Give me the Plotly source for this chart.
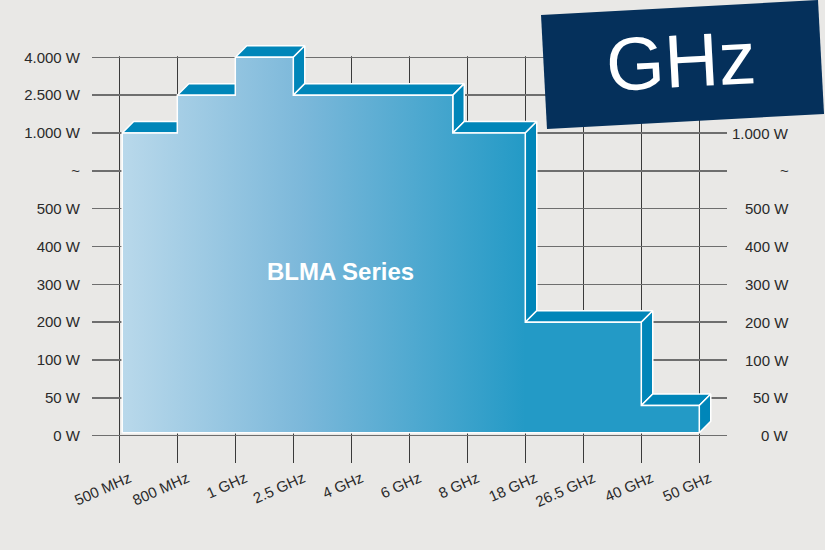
import numpy as np
import plotly.graph_objects as go

# ---------------- data ----------------
freq_labels = ["500 MHz", "800 MHz", "1 GHz", "2.5 GHz", "4 GHz", "6 GHz",
               "8 GHz", "18 GHz", "26.5 GHz", "40 GHz", "50 GHz"]
freq_ghz = [0.5, 0.8, 1, 2.5, 4, 6, 8, 18, 26.5, 40, 50]

power_labels = ["0 W", "50 W", "100 W", "200 W", "300 W", "400 W", "500 W",
                "~", "1.000 W", "2.500 W", "4.000 W"]
# watt value of each labelled level (the "~" break level has none)
power_level_idx = [0, 1, 2, 3, 4, 5, 6, 8, 9, 10]
power_level_w = [0, 50, 100, 200, 300, 400, 500, 1000, 2500, 4000]

# BLMA series: band edges (GHz) and output power (W) of each band
band_edges_ghz = [0.5, 0.8, 1, 2.5, 7.5, 18, 40, 50]
band_power_w = [1000, 2500, 4000, 2500, 1000, 200, 40]

series_name = "BLMA Series"
badge_text = "GHz"

# ---------------- styling ----------------
BG = "#e9e8e6"
FRONT_L = "#bad9eb"
FRONT_R = "#239ac6"
FACE = "#0086b9"
NAVY = "#05305b"
TXT = "#2a2a2a"
FONT = "Liberation Sans, Arial, sans-serif"

W, H = 825, 550
ML, MR, MT, MB = 92, 98, 30, 87
PW, PH = W - ML - MR, H - MT - MB

# axis scale (category positions / level positions)
xr = [-0.4707, 10.478]
yr = [-0.7215, 10.722]
DX, DY = 0.198, 0.304          # 3-D depth offset in axis units
INSET_X, INSET_Y = 0.05, 0.08  # front face inset from axes
RIGHT_LABEL_MAX_LEVEL = 8      # right labels above this sit under the badge

xpos = np.arange(len(freq_labels))
ypos = np.arange(len(power_labels))


def fx(g):
    return float(np.interp(g, freq_ghz, xpos))


def fy(w):
    return float(np.interp(w, power_level_w, power_level_idx))


bx = [fx(g) for g in band_edges_ghz]
by = [fy(w) for w in band_power_w]

fig = go.Figure()

# top faces and side faces
for i in range(len(by)):
    xa, xb, L = bx[i], bx[i + 1], by[i]
    if i == 0:
        xa += INSET_X
    fig.add_trace(go.Scatter(
        x=[xa, xa + DX, xb + DX, xb, xa], y=[L, L + DY, L + DY, L, L],
        mode="lines", fill="toself", fillcolor=FACE,
        line=dict(color="white", width=1.5), hoverinfo="skip", showlegend=False))
    nxt = by[i + 1] if i + 1 < len(by) else INSET_Y
    if nxt < L:
        fig.add_trace(go.Scatter(
            x=[xb, xb + DX, xb + DX, xb, xb], y=[L, L + DY, nxt + DY, nxt, L],
            mode="lines", fill="toself", fillcolor=FACE,
            line=dict(color="white", width=1.5), hoverinfo="skip", showlegend=False))

# front face
px_, py_ = [bx[0] + INSET_X], [INSET_Y]
for i in range(len(by)):
    xa = bx[i] + (INSET_X if i == 0 else 0)
    px_ += [xa, bx[i + 1]]
    py_ += [by[i], by[i]]
px_ += [bx[-1], bx[0] + INSET_X]
py_ += [INSET_Y, INSET_Y]
fig.add_trace(go.Scatter(
    x=px_, y=py_, mode="lines", fill="toself",
    fillgradient=dict(type="horizontal", start=0, stop=fx(18),
                      colorscale=[[0, FRONT_L], [0.45, "#7cb8da"], [1, FRONT_R]]),
    line=dict(color="white", width=1.5), hoverinfo="skip", showlegend=False))


def pxp(x):
    return (x - ML) / PW


def pyp(y):
    return 1 - (y - MT) / PH


# cover vertical grid above the top level
fig.add_shape(type="rect", layer="between", xref="x", yref="y",
              x0=xr[0], x1=xr[1], y0=ypos[-1] + 0.025, y1=yr[1],
              fillcolor=BG, line_width=0)

# GHz badge
corners = [(541, 15), (818, 0), (824, 114), (547, 129)]
path = "M " + " L ".join(f"{pxp(a):.4f},{pyp(b):.4f}" for a, b in corners) + " Z"
fig.add_shape(type="path", path=path, xref="paper", yref="paper",
              fillcolor=NAVY, line_width=0, layer="above")
fig.add_annotation(x=pxp(681), y=pyp(61), xref="paper", yref="paper",
                   xanchor="center", yanchor="middle",
                   text=badge_text, showarrow=False, textangle=-3,
                   font=dict(family="Liberation Sans, Arial, sans-serif", size=75, color="white"))

# series label
fig.add_annotation(x=3.81, y=4.33, text=f"<b>{series_name}</b>", showarrow=False,
                   xanchor="center", yanchor="middle",
                   font=dict(family=FONT, size=24, color="white"))

# right-hand power labels
for yv, t in zip(ypos, power_labels):
    if yv > RIGHT_LABEL_MAX_LEVEL:
        continue
    fig.add_annotation(x=pxp(791), y=yv, xref="paper", yref="y", text=t,
                       showarrow=False, xanchor="right", yanchor="middle",
                       font=dict(family=FONT, size=15, color=TXT))

fig.update_layout(
    width=W, height=H, autosize=False,
    margin=dict(l=ML, r=MR, t=MT, b=MB, pad=0),
    paper_bgcolor=BG, plot_bgcolor=BG, showlegend=False, hovermode=False,
    font=dict(family=FONT, size=15, color=TXT),
)
fig.update_xaxes(range=xr, tickvals=xpos, ticktext=freq_labels, tickangle=-24,
                 showgrid=True, gridcolor="#3a3a3a", gridwidth=1.2, zeroline=False,
                 showline=False, ticks="", ticklabelstandoff=3, ticklabelshift=10,
                 tickfont=dict(family=FONT, size=15, color=TXT), fixedrange=True,
                 automargin=False)
fig.update_yaxes(range=yr, tickvals=ypos, ticktext=power_labels,
                 showgrid=True, gridcolor="#6e6e6e", gridwidth=1.4, zeroline=False,
                 showline=False, ticks="", ticklabelstandoff=11,
                 tickfont=dict(family=FONT, size=15, color=TXT), fixedrange=True,
                 automargin=False)

fig.write_html("out.html", config={"displayModeBar": False, "staticPlot": True},
               post_script="document.body.style.margin='0px';")
